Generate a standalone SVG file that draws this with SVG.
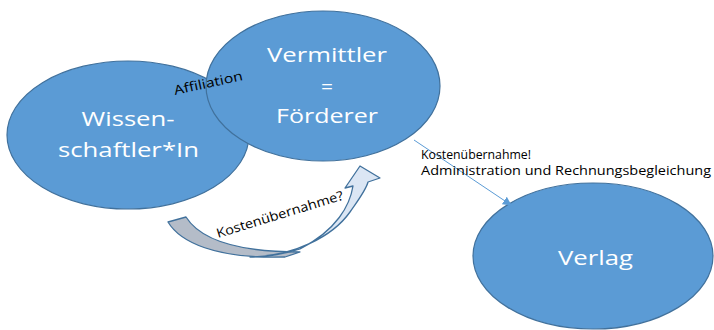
<svg xmlns="http://www.w3.org/2000/svg" width="714" height="330" viewBox="0 0 714 330">
<style>
.node{fill:#5b9bd5;stroke:#41719c;stroke-width:1.2}
.big{font-family:"Open Sans","Liberation Sans",sans-serif;font-size:20px;fill:#ffffff;text-anchor:middle}
.small{font-family:"Open Sans","Liberation Sans",sans-serif;font-size:12.5px;fill:#000000}
.conn{stroke:#5b9bd5;stroke-width:1;fill:none}
</style>
<defs>
<marker id="arr" viewBox="0 0 10 10" refX="9" refY="5" markerWidth="9" markerHeight="9" orient="auto" markerUnits="userSpaceOnUse">
<path d="M0,0 L10,5 L0,10 Z" fill="#5b9bd5"/>
</marker>
</defs>
<rect width="714" height="330" fill="#ffffff"/>
<g id="wissenschaftler">
<ellipse class="node" cx="128" cy="135" rx="121" ry="74"/>
<text class="big" x="128" y="126" textLength="93" lengthAdjust="spacingAndGlyphs">Wissen-</text>
<text class="big" x="128.5" y="157" textLength="141" lengthAdjust="spacingAndGlyphs">schaftler*In</text>
</g>
<g id="vermittler">
<ellipse class="node" cx="323" cy="86" rx="117" ry="75"/>
<text class="big" x="327" y="62" textLength="120" lengthAdjust="spacingAndGlyphs">Vermittler</text>
<text class="big" x="327" y="94" textLength="12" lengthAdjust="spacingAndGlyphs">=</text>
<text class="big" x="327" y="123" textLength="102" lengthAdjust="spacingAndGlyphs">Förderer</text>
</g>
<g id="verlag">
<ellipse class="node" cx="593" cy="256" rx="120" ry="73"/>
<text class="big" x="595.5" y="265" textLength="75" lengthAdjust="spacingAndGlyphs">Verlag</text>
</g>
<g id="affiliation-label">
<text class="small" style="font-size:13px" transform="translate(175,95) rotate(-12.4)" textLength="70" lengthAdjust="spacingAndGlyphs">Affiliation</text>
</g>
<g id="connectors">
<line class="conn" x1="414" y1="140" x2="511" y2="205" marker-end="url(#arr)"/>
<g id="curved-arrow">
<path d="M168,222 C180,242 215,259 285,257 L300,252 C250,252 203,244 186,217 Z" fill="#b4bcc8" stroke="#41719c" stroke-width="1.3" stroke-linejoin="round"/>
<path d="M250,257 C295,256 333,236 350,212 C359,199 366,190 368,182 L380,178 L360,166 L345,188 L353,186 C350,205 337,230 300,249 C282,255 266,257 250,257 Z" fill="#dbe6f4" stroke="#41719c" stroke-width="1.3" stroke-linejoin="round"/>
</g>
<text class="small" style="font-size:13px" transform="translate(218,238) rotate(-17)" textLength="132" lengthAdjust="spacingAndGlyphs">Kostenübernahme?</text>
<text class="small" x="421" y="159" textLength="110" lengthAdjust="spacingAndGlyphs">Kostenübernahme!</text>
<text class="small" x="421" y="175" textLength="290" lengthAdjust="spacingAndGlyphs">Administration und Rechnungsbegleichung</text>
</g>
</svg>
